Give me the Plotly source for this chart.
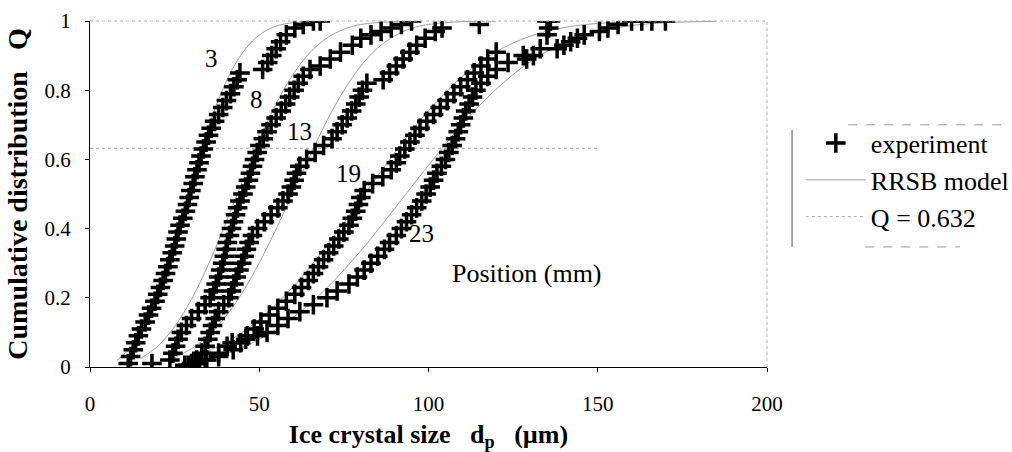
import plotly.graph_objects as go

# ---------------- data ----------------
# experiment: ice crystal size d (um) and cumulative distribution Q, per position (mm)
d3 = [11.3, 12, 12.8, 13.5, 14.3, 15.2, 16.3, 17.3, 18.2, 19.2, 20, 20.8, 21.6, 22.3, 23, 23.6,
      24.3, 25, 25.5, 26, 26.6, 27.4, 28.2, 28.8, 29.3, 29.8, 30.5, 31, 31.6, 32.2, 32.8, 33.5,
      34.3, 35, 35.8, 36.8, 38, 39.2, 40.3, 41.5, 42.5, 43.5, 44.3, 51, 52.5, 53.7, 55, 56.3,
      58, 60.5, 63, 66, 68]
q3 = [0.01, 0.03, 0.05, 0.07, 0.09, 0.11, 0.13, 0.15, 0.17, 0.19, 0.21, 0.23, 0.25, 0.27, 0.29, 0.31,
      0.33, 0.35, 0.37, 0.39, 0.41, 0.43, 0.45, 0.47, 0.49, 0.51, 0.53, 0.55, 0.57, 0.59, 0.61, 0.63,
      0.65, 0.67, 0.69, 0.71, 0.73, 0.75, 0.77, 0.79, 0.81, 0.83, 0.85, 0.86, 0.88, 0.90, 0.92, 0.94,
      0.96, 0.98, 0.99, 1.0, 1.0]

d8 = [18.3, 23.6, 24.5, 25.3, 26, 27, 28.5, 30, 32, 34, 35.5, 36.5, 37.3, 38, 38.6, 39.2, 39.7,
      40.2, 40.6, 41.2, 41.8, 42.4, 43, 43.6, 44.3, 45.2, 46, 46.8, 47.4, 48, 48.6, 49.4, 50.2,
      51.2, 52.3, 53.5, 55, 56.5, 57.8, 59, 60.3, 61.5, 63, 65, 68, 71, 74, 77.5, 80, 83, 86,
      89, 92, 95]
q8 = [0.01, 0.02, 0.04, 0.06, 0.08, 0.10, 0.12, 0.14, 0.16, 0.18, 0.20, 0.22, 0.24, 0.26, 0.28, 0.30, 0.32,
      0.34, 0.36, 0.38, 0.40, 0.42, 0.44, 0.46, 0.48, 0.50, 0.52, 0.54, 0.56, 0.58, 0.60, 0.62, 0.64,
      0.66, 0.68, 0.70, 0.72, 0.74, 0.76, 0.78, 0.80, 0.82, 0.84, 0.86, 0.87, 0.89, 0.91, 0.93, 0.95, 0.96, 0.97,
      0.98, 0.99, 1.0]

d13 = [28, 30, 31.5, 33, 34, 34.8, 35.5, 36.2, 37, 38, 39.5, 41, 41.8, 42.5, 43.2, 44, 44.8, 45.5,
       46.2, 47, 48, 49.5, 51.5, 53.5, 55.5, 57, 58.5, 59.5, 60.3, 61, 62, 64, 66.5, 69, 71.5, 73,
       74.5, 76, 77.3, 78.5, 79.5, 80.5, 81.8, 86.6, 88.5, 90.5, 92.5, 94.5, 96.5, 99, 102, 104,
       115, 135]
q13 = [0.005, 0.01, 0.02, 0.04, 0.06, 0.08, 0.10, 0.12, 0.14, 0.16, 0.18, 0.20, 0.22, 0.24, 0.26, 0.28, 0.30, 0.32,
       0.34, 0.36, 0.38, 0.40, 0.42, 0.44, 0.46, 0.48, 0.50, 0.52, 0.54, 0.56, 0.58, 0.60, 0.62, 0.64, 0.66, 0.68,
       0.70, 0.72, 0.74, 0.76, 0.78, 0.80, 0.82, 0.83, 0.85, 0.87, 0.89, 0.91, 0.93, 0.95, 0.97, 0.98,
       0.99, 1.0]

d19 = [29, 31, 34, 38, 42.3, 44.5, 46.5, 48.5, 50.5, 53, 55.5, 58, 60.5, 62.5, 64.5, 66, 67.5, 69,
       70.5, 72, 73.5, 75, 76.5, 77.5, 78.5, 79.3, 80, 81, 83.5, 86.5, 89, 90.5, 91.5, 93, 94.5, 96,
       97.5, 99.5, 101.5, 103.5, 105.5, 107.5, 109.5, 111.5, 113.5, 115.5, 117.5, 120, 129, 131,
       133, 135, 135.5, 136]
q19 = [0.005, 0.01, 0.02, 0.03, 0.05, 0.07, 0.09, 0.11, 0.13, 0.15, 0.17, 0.19, 0.21, 0.23, 0.25, 0.27, 0.29, 0.31,
       0.33, 0.35, 0.37, 0.39, 0.41, 0.43, 0.45, 0.47, 0.49, 0.51, 0.53, 0.55, 0.57, 0.59, 0.61, 0.63, 0.65, 0.67,
       0.69, 0.71, 0.73, 0.75, 0.77, 0.79, 0.81, 0.83, 0.85, 0.87, 0.89, 0.91, 0.89, 0.90,
       0.92, 0.96, 0.98, 1.0]

d23 = [30, 32, 34.5, 38, 40.5, 42, 46, 49.5, 52.3, 55.5, 58.5, 62, 66, 70, 73, 76.5, 79, 81, 83, 85,
       87, 88.5, 90.5, 92, 93.5, 95, 96.5, 98, 99.3, 100.5, 101.5, 102.5, 103.8, 105, 106, 107, 108,
       108.8, 109.5, 110.3, 111, 112, 113, 114, 115.5, 117.5, 120, 123.5, 128, 138, 140, 142, 144,
       146, 150.5, 153, 156, 160, 163, 166, 170]
q23 = [0.005, 0.01, 0.02, 0.04, 0.06, 0.07, 0.08, 0.09, 0.10, 0.12, 0.14, 0.16, 0.18, 0.20, 0.22, 0.24, 0.26, 0.28,
       0.30, 0.32, 0.34, 0.36, 0.38, 0.40, 0.42, 0.44, 0.46, 0.48, 0.50, 0.52, 0.54, 0.56, 0.58, 0.60, 0.62, 0.64,
       0.66, 0.68, 0.70, 0.72, 0.74, 0.76, 0.78, 0.80, 0.82, 0.84, 0.86, 0.88, 0.90, 0.92, 0.93, 0.94, 0.95,
       0.96, 0.97, 0.98, 0.99, 1.0, 1.0, 1.0, 1.0]

# RRSB model curves (read / estimated from the thin grey lines)
m3_d = [8, 12, 16, 20, 24, 28, 32, 36, 40, 44, 48, 52, 56, 62, 70]
m3_q = [0.019, 0.057, 0.123, 0.218, 0.336, 0.468, 0.600, 0.721, 0.820, 0.893, 0.942, 0.972, 0.988, 0.997, 1.0]

m8_d = [15, 20, 25, 30, 35, 40, 45, 50, 55, 60, 65, 70, 75, 80, 88, 95]
m8_q = [0.025, 0.060, 0.117, 0.196, 0.297, 0.413, 0.536, 0.655, 0.761, 0.846, 0.909, 0.951, 0.976, 0.990, 0.997, 1.0]

m13_d = [25, 30, 35, 40, 45, 50, 55, 60, 65, 70, 75, 80, 85, 90, 95, 100, 110, 120]
m13_q = [0.027, 0.053, 0.091, 0.145, 0.215, 0.301, 0.399, 0.505, 0.611, 0.712, 0.799, 0.870, 0.922,
         0.957, 0.979, 0.990, 0.998, 1.0]

m19_d = [30, 40, 50, 60, 70, 80, 90, 100, 110, 120, 130, 140, 150, 165]
m19_q = [0.028, 0.070, 0.137, 0.232, 0.351, 0.484, 0.619, 0.741, 0.840, 0.911, 0.956, 0.981, 0.993, 0.999]

m23_d = [30, 40, 50, 60, 70, 80, 90, 100, 110, 120, 130, 140, 150, 160, 170, 185]
m23_q = [0.015, 0.038, 0.080, 0.143, 0.229, 0.336, 0.458, 0.583, 0.702, 0.803, 0.882, 0.936, 0.969,
         0.987, 0.995, 0.999]

q_ref = 0.632
q_ref_d = [0, 150]

positions = ["3", "8", "13", "19", "23"]
label_d = [36, 49.3, 62, 76.3, 98]
label_q = [0.893, 0.772, 0.68, 0.56, 0.387]

x_ticks = [0, 50, 100, 150, 200]
y_ticks = [0, 0.2, 0.4, 0.6, 0.8, 1]
y_tick_text = ["0", "0.2", "0.4", "0.6", "0.8", "1"]

# ---------------- figure ----------------
FONT = "Liberation Serif"
fig = go.Figure()

model_sets = [(m3_d, m3_q), (m8_d, m8_q), (m13_d, m13_q), (m19_d, m19_q), (m23_d, m23_q)]
for i, (md, mq) in enumerate(model_sets):
    fig.add_trace(go.Scatter(
        x=md, y=mq, mode="lines", line=dict(color="#a0a0a0", width=1, shape="spline"),
        name="RRSB model", legendgroup="model", showlegend=(i == 0), legendrank=2))

fig.add_trace(go.Scatter(
    x=q_ref_d, y=[q_ref, q_ref], mode="lines",
    line=dict(color="#a8a8a8", width=1, dash="dot"),
    name="Q = 0.632", legendrank=3))

exp_sets = [(d3, q3), (d8, q8), (d13, q13), (d19, q19), (d23, q23)]
for i, (ed, eq) in enumerate(exp_sets):
    fig.add_trace(go.Scatter(
        x=ed, y=eq, mode="markers",
        marker=dict(symbol="cross-thin", size=14, line=dict(color="black", width=3.5)),
        name="experiment", legendgroup="exp", showlegend=(i == 0), legendrank=1))

for txt, ld, lq in zip(positions, label_d, label_q):
    fig.add_annotation(x=ld, y=lq, text=txt, showarrow=False,
                       font=dict(family=FONT, size=25, color="black"))

fig.add_annotation(x=129, y=0.27, text="Position (mm)", showarrow=False,
                   font=dict(family=FONT, size=26, color="black"))

# frame: dotted top and right borders
fig.add_shape(type="line", xref="paper", yref="paper", x0=0, x1=1, y0=1, y1=1,
              line=dict(color="#b0b0b0", width=1, dash="dot"))
fig.add_shape(type="line", xref="paper", yref="paper", x0=1, x1=1, y0=0, y1=1,
              line=dict(color="#b0b0b0", width=1, dash="dot"))

# legend frame pieces
fig.add_shape(type="line", xref="paper", yref="paper", x0=1.037, x1=1.037, y0=0.347, y1=0.685,
              line=dict(color="#555555", width=1))
fig.add_shape(type="line", xref="paper", yref="paper", x0=1.12, x1=1.35, y0=0.70, y1=0.70,
              line=dict(color="#999999", width=1, dash="dash"))
fig.add_shape(type="line", xref="paper", yref="paper", x0=1.145, x1=1.285, y0=0.347, y1=0.347,
              line=dict(color="#999999", width=1, dash="dash"))

fig.update_layout(
    width=1012, height=452,
    margin=dict(l=90, r=245, t=21, b=85, autoexpand=False),
    paper_bgcolor="white", plot_bgcolor="white",
    font=dict(family=FONT, color="black"),
    showlegend=True,
    legend=dict(x=1.05, y=0.715, xanchor="left", yanchor="top",
                font=dict(family=FONT, size=26, color="black"),
                bgcolor="rgba(0,0,0,0)", borderwidth=0, itemwidth=60,
                tracegroupgap=0),
    xaxis=dict(range=[0, 200], tickvals=x_ticks, ticks="outside", ticklen=4,
               tickcolor="black", showline=True, linecolor="black", linewidth=1,
               showgrid=False, zeroline=False, ticklabelstandoff=14,
               tickfont=dict(family=FONT, size=21, color="black"),
               title=dict(text="<b>Ice crystal size   d<sub>p</sub>   (µm)</b>",
                          font=dict(family=FONT, size=26, color="black"), standoff=14)),
    yaxis=dict(range=[0, 1], tickvals=y_ticks, ticktext=y_tick_text, ticks="outside", ticklen=4,
               tickcolor="black", showline=True, linecolor="black", linewidth=1,
               showgrid=False, zeroline=False, ticklabelstandoff=10,
               tickfont=dict(family=FONT, size=21, color="black"),
               title=dict(text="<b>Cumulative distribution   Q</b>",
                          font=dict(family=FONT, size=28, color="black"), standoff=8)),
)

fig.write_html("out.html")
